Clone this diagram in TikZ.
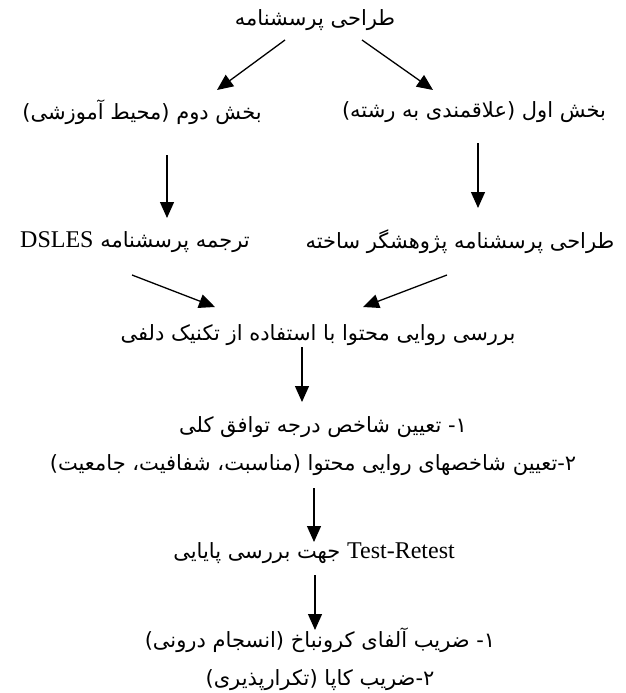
\documentclass[tikz,border=0pt]{standalone}
\usepackage{fontspec}
\setmainfont{Liberation Serif}
\newfontfamily\fa[Script=Arabic]{DejaVu Sans}
\TeXXeTstate=1
\usetikzlibrary{arrows.meta}
\newcommand{\lat}[1]{{\rmfamily\fontsize{24}{28}\selectfont #1}}
\begin{document}
\begin{tikzpicture}[x=1pt,y=-1pt,
  lbl/.style={inner sep=0pt, anchor=center, font=\fa\fontsize{21}{25}\selectfont},
  arr/.style={line width=1.3pt, -{Triangle[length=16pt,width=14pt]}}]
\useasboundingbox (0,0) rectangle (626,693);
\node[lbl] (title) at (315,20) {\beginR طراحی پرسشنامه\endR};
\node[lbl] (p1) at (474,112) {\beginR بخش اول (علاقمندی به رشته)\endR};
\node[lbl] (p2) at (142,112) {\beginR بخش دوم (محیط آموزشی)\endR};
\node[lbl] (q1) at (460,242) {\beginR طراحی پرسشنامه پژوهشگر ساخته\endR};
\node[lbl] (q2) at (135,242) {\beginR ترجمه پرسشنامه \beginL\lat{DSLES}\endL\endR};
\node[lbl] (delphi) at (318,335) {\beginR بررسی روایی محتوا با استفاده از تکنیک دلفی\endR};
\node[lbl] (i1) at (323,427) {\beginR ۱- تعیین شاخص درجه توافق کلی\endR};
\node[lbl] (i2) at (313,465) {\beginR ۲-تعیین شاخصهای روایی محتوا (مناسبت، شفافیت، جامعیت)\endR};
\node[lbl] (rel) at (314,553) {\beginR\beginL\lat{Test-Retest}\endL{} جهت بررسی پایایی\endR};
\node[lbl] (k1) at (320,640) {\beginR ۱- ضریب آلفای کرونباخ (انسجام درونی)\endR};
\node[lbl] (k2) at (320,680) {\beginR ۲-ضریب کاپا (تکرارپذیری)\endR};
% arrow end points
\coordinate (a1s) at (285,40);  \coordinate (a1e) at (217,90);
\coordinate (a2s) at (362,40);  \coordinate (a2e) at (433,90);
\coordinate (a3s) at (167,155); \coordinate (a3e) at (167,218);
\coordinate (a4s) at (478,143); \coordinate (a4e) at (478,208);
\coordinate (a5s) at (132,275); \coordinate (a5e) at (215,307);
\coordinate (a6s) at (447,275); \coordinate (a6e) at (363,307);
\coordinate (a7s) at (302,347); \coordinate (a7e) at (302,402);
\coordinate (a8s) at (314,488); \coordinate (a8e) at (314,542);
\coordinate (a9s) at (315,575); \coordinate (a9e) at (315,630);
\draw[arr] (a1s) -- (a1e);
\draw[arr] (a2s) -- (a2e);
\draw[arr] (a3s) -- (a3e);
\draw[arr] (a4s) -- (a4e);
\draw[arr] (a5s) -- (a5e);
\draw[arr] (a6s) -- (a6e);
\draw[arr] (a7s) -- (a7e);
\draw[arr] (a8s) -- (a8e);
\draw[arr] (a9s) -- (a9e);
\end{tikzpicture}
\end{document}
